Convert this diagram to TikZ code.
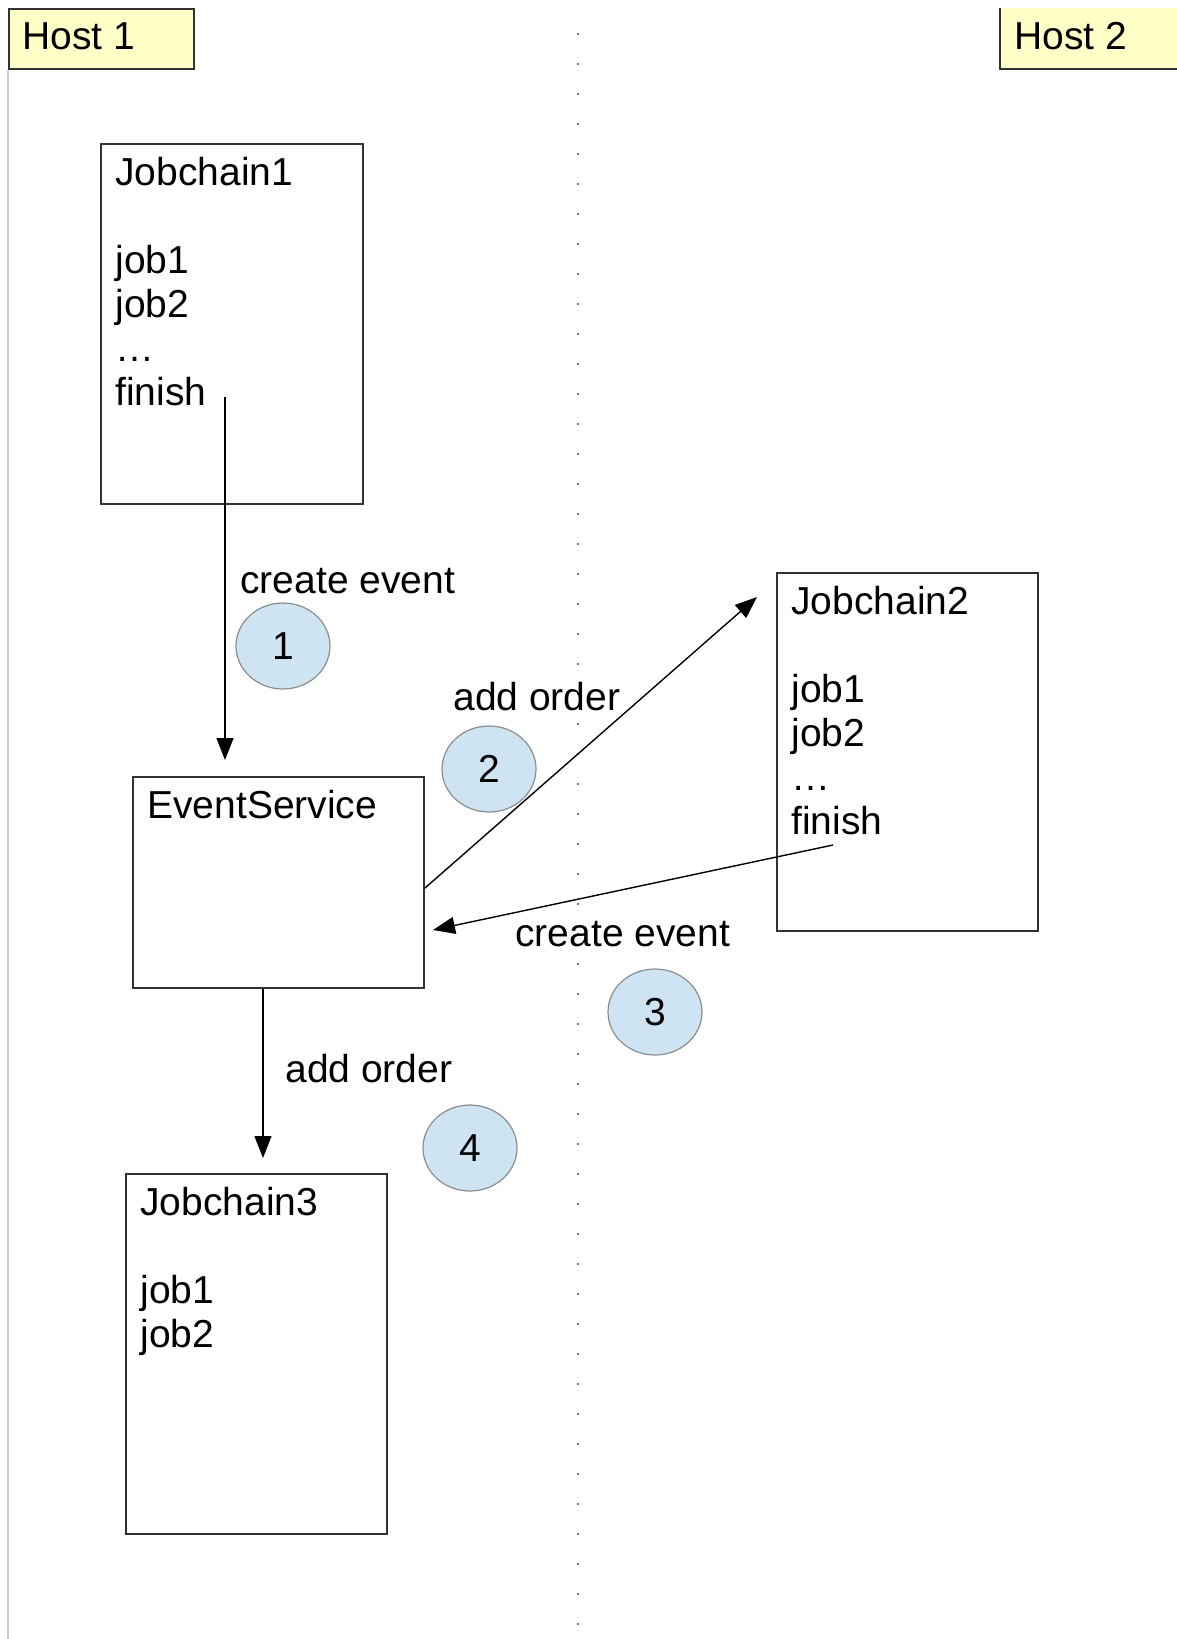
\documentclass[tikz,border=0pt]{standalone}
\usepackage{fontspec}
\setmainfont{Liberation Sans}
\usetikzlibrary{positioning,shapes,arrows.meta}
\definecolor{HostYellow}{HTML}{FFFFC8}
\definecolor{StepBlue}{HTML}{CFE4F2}
\tikzstyle{ChainNode}=[draw=black!80, line width=1pt, anchor=north west, inner sep=0pt]
\tikzstyle{BoxText}=[anchor=north west, align=left, inner sep=0pt]
\tikzstyle{StepNode}=[ellipse, draw=black!45, fill=StepBlue, line width=0.6pt, minimum width=47pt, minimum height=43pt, inner sep=0pt]
\tikzstyle{Flow}=[-{Triangle[length=11pt,width=8.5pt]}, line width=0.7pt]
\tikzstyle{EdgeText}=[anchor=base west, inner sep=0pt]

\begin{document}
\begin{tikzpicture}[x=0.5pt, y=-0.5pt, font=\fontsize{19.5pt}{22pt}\selectfont]
      \useasboundingbox (0,0) rectangle (1177,1639);
      % hosts and lanes
      \node[ChainNode, fill=HostYellow, minimum width=92.5pt, minimum height=30pt] (h1) at (8,8) {};
      \node[BoxText] (h1txt) at ([xshift=7pt,yshift=-7pt]h1.north west) {Host 1};
      \node[fill=HostYellow, anchor=north west, inner sep=0pt, minimum width=88.5pt, minimum height=30pt] (h2) at (1000,8) {};
      \draw[black!80, line width=1pt] (h2.north west) -- (h2.south west) -- (h2.south east);
      \node[BoxText] (h2txt) at ([xshift=7pt,yshift=-7pt]h2.north west) {Host 2};
      \draw[black!20, line width=1pt] (h1.south west) -- (h1.south west |- 0,1639);
      \draw[black!55, line width=1pt, dash pattern=on 1pt off 14pt] (578,33) -- (578,1639);
      % job chains
      \node[ChainNode, minimum width=131pt, minimum height=180pt] (jc1) at (100,143) {};
      \node[BoxText] (jc1txt) at ([xshift=7.5pt,yshift=-7pt]jc1.north west) {Jobchain1\\[22pt]job1\\job2\\…\\finish};
      \node[ChainNode, minimum width=130.5pt, minimum height=179pt] (jc2) at (776,572) {};
      \node[BoxText] (jc2txt) at ([xshift=7.5pt,yshift=-7pt]jc2.north west) {Jobchain2\\[22pt]job1\\job2\\…\\finish};
      \node[ChainNode, minimum width=145.5pt, minimum height=105.5pt] (es) at (132,776) {};
      \node[BoxText] (estxt) at ([xshift=7.5pt,yshift=-7pt]es.north west) {EventService};
      \node[ChainNode, minimum width=130.5pt, minimum height=180pt] (jc3) at (125,1173) {};
      \node[BoxText] (jc3txt) at ([xshift=7.5pt,yshift=-7pt]jc3.north west) {Jobchain3\\[22pt]job1\\job2};
      % steps
      \node[StepNode] (s1) at (283,646) {1};
      \node[StepNode] (s2) at (489,769) {2};
      \node[StepNode] (s3) at (655,1012) {3};
      \node[StepNode] (s4) at (470,1148) {4};
      \node[EdgeText] (lab1) at (240,593) {create event};
      \node[EdgeText] (lab2) at (453,710) {add order};
      \node[EdgeText] (lab3) at (515,946) {create event};
      \node[EdgeText] (lab4) at (285,1082) {add order};
      % connectors
      \coordinate (fin1) at (225,397);
      \coordinate (fin2) at (833,845);
      \draw[Flow] (fin1) -- ([yshift=8pt]fin1 |- es.north);
      \draw[Flow] ([yshift=-2.75pt]es.east) -- ([xshift=-9.5pt,yshift=-12.5pt]jc2.north west);
      \draw[Flow] (fin2) -- ([xshift=4pt,yshift=-23.75pt]es.east);
      \draw[Flow] ([xshift=-7.75pt]es.south) -- ([xshift=-7.75pt,yshift=7.5pt]es.south |- jc3.north);
\end{tikzpicture}
\end{document}
